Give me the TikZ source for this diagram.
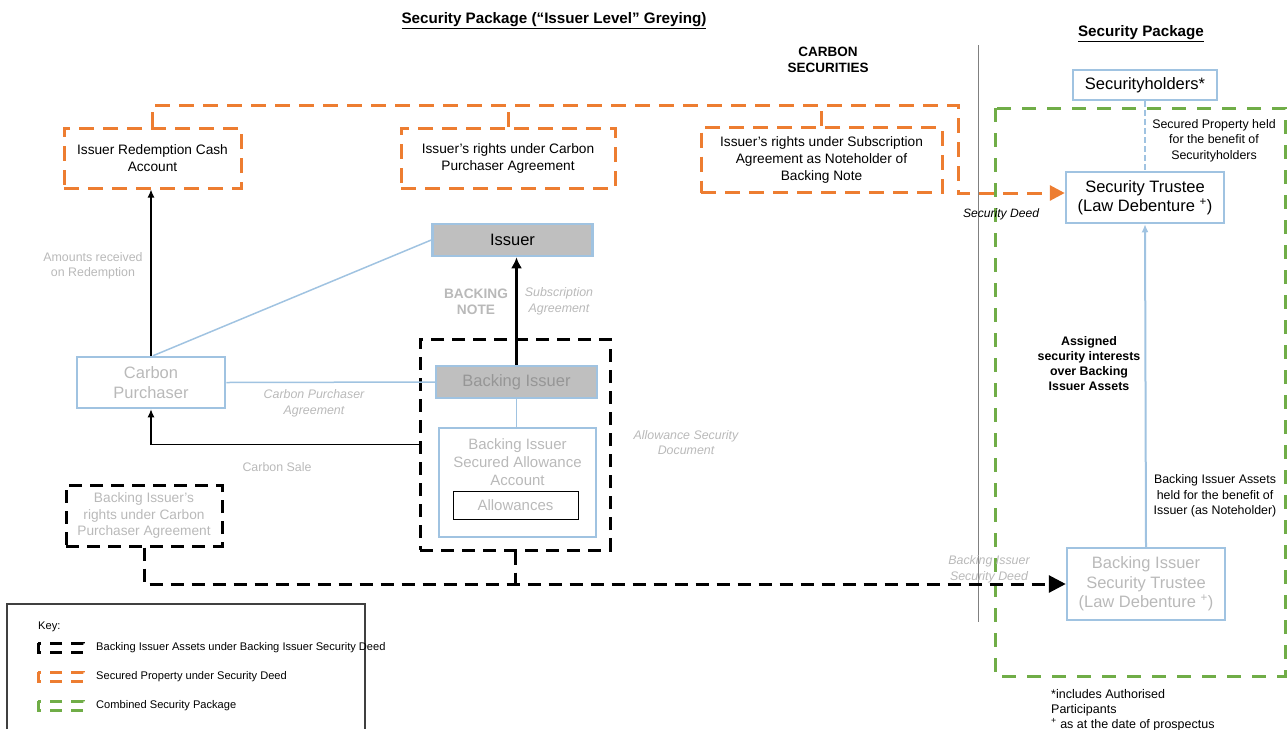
\documentclass[tikz,border=0pt]{standalone}
\usepackage{fontspec}
\setmainfont{Liberation Sans}
\usetikzlibrary{shapes,arrows,arrows.meta,positioning}
\definecolor{orng}{RGB}{237,125,49}
\definecolor{grn}{RGB}{112,173,71}
\definecolor{lblue}{RGB}{160,195,225}
\definecolor{boxgrey}{RGB}{191,191,191}
\definecolor{txtgrey}{RGB}{185,185,185}
\definecolor{dkgrey}{RGB}{150,150,150}

\begin{document}
\begin{tikzpicture}[x=1pt,y=-1pt,>=latex']
	%define block styles
	\tikzset{
		orangebox/.style={rectangle, draw=orng, line width=3pt, dash pattern=on 15pt off 9pt, inner sep=0pt, align=center, font=\fontsize{13.7}{17}\selectfont},
		blackbox/.style={rectangle, draw=black, line width=3pt, dash pattern=on 13pt off 8pt, inner sep=0pt, align=center, text=txtgrey, font=\fontsize{13.7}{16.5}\selectfont},
		bluebox/.style={rectangle, draw=lblue, line width=2.5pt, inner sep=0pt, align=center, font=\fontsize{16.5}{19.5}\selectfont},
		greybox/.style={bluebox, fill=boxgrey},
		lbl/.style={align=center, inner sep=0pt, text=txtgrey, font=\fontsize{12.4}{15.5}\selectfont},
		ilbl/.style={lbl, font=\fontsize{12.4}{15.5}\selectfont\itshape},
		blkline/.style={black, line width=1.3pt, -{Latex[length=8pt,width=7pt]}},
		blueline/.style={lblue, line width=1.5pt},
		orangeline/.style={orng, line width=3pt, dash pattern=on 15pt off 9pt},
		dashline/.style={black, line width=3pt, dash pattern=on 13pt off 8pt},
		greenline/.style={grn, line width=3pt, dash pattern=on 14pt off 11pt},
		title/.style={inner sep=0pt, align=center, font=\fontsize{15.2}{18}\selectfont\bfseries},
	}
	\useasboundingbox (0,0) rectangle (1288,729);
	%titles
	\node[title] (maintitle) at (554,21) {\underline{Security Package (“Issuer Level” Greying)}};
	\node[title, font=\fontsize{13.5}{16}\selectfont\bfseries] (carbsec) at (828,60) {CARBON\\SECURITIES};
	\node[title] (sptitle) at (1141,34) {\underline{Security Package}};
	\draw[gray, line width=0.8pt] (978,45) -- (978,622);
	%define nodes
	\node[orangebox, minimum width=177pt, minimum height=60pt] (redcash) at (152.5,158) {Issuer Redemption Cash\\Account};
	\node[orangebox, minimum width=214pt, minimum height=60pt] (cprights) at (508,158) {Issuer’s rights under Carbon\\Purchaser Agreement};
	\node[orangebox, minimum width=241pt, minimum height=65pt] (subrights) at (821.5,160) {Issuer’s rights under Subscription\\Agreement as Noteholder of\\Backing Note};
	\node[greybox, minimum width=160pt, minimum height=32pt] (issuer) at (512.5,240) {Issuer};
	\node[blackbox, minimum width=190pt, minimum height=211pt] (biassets) at (515,444.5) {};
	\node[greybox, minimum width=161pt, minimum height=32pt, text=dkgrey] (backiss) at (516.5,382) {Backing Issuer};
	\node[bluebox, minimum width=157pt, minimum height=109pt] (allowacct) at (517.5,482.5) {};
	\node[lbl, font=\fontsize{15}{18}\selectfont] (allowtxt) at (517.5,462) {Backing Issuer\\Secured Allowance\\Account};
	\node[draw=black, line width=1pt, minimum width=125pt, minimum height=28pt, inner sep=0pt, text=txtgrey, font=\fontsize{15}{18}\selectfont] (allowances) at (515.5,505) {Allowances};
	\node[bluebox, minimum width=148pt, minimum height=51pt, text=txtgrey] (cpurch) at (151,382.5) {Carbon\\Purchaser};
	\node[blackbox, minimum width=156pt, minimum height=61pt] (birights) at (144,515.5) {Backing Issuer’s\\rights under Carbon\\Purchaser Agreement};
	\node[bluebox, minimum width=144pt, minimum height=30pt] (holders) at (1145,85) {Securityholders*};
	\node[bluebox, minimum width=158pt, minimum height=51pt] (trustee) at (1145,197.5) {Security Trustee\\(Law Debenture \textsuperscript{+})};
	\node[bluebox, minimum width=158pt, minimum height=72pt, text=txtgrey] (bitrustee) at (1146,584) {Backing Issuer\\Security Trustee\\(Law Debenture \textsuperscript{+})};
	\draw[greenline] (995,108) rectangle (1285,676);
	%connectors
	\coordinate (orcorner) at (958,105);
	\draw[orangeline, -{Triangle[length=15pt,width=15pt]}] (redcash.north) |- (orcorner) |- ([yshift=4.5pt]trustee.west);
	\draw[orangeline] (cprights.north) -- (cprights.north |- orcorner);
	\draw[orangeline] (subrights.north) -- (subrights.north |- orcorner);
	\draw[blkline] (cpurch.north) -- (cpurch.north |- redcash.south);
	\draw[blueline] ([xshift=2pt]cpurch.north) -- (issuer.west);
	\draw[blueline] (cpurch.east) -- (backiss.west);
	\draw[blueline] (backiss.south) -- (backiss.south |- allowacct.north);
	\draw[black, line width=3.5pt, -{Latex[length=11pt,width=11pt]}] (backiss.north) -- (backiss.north |- issuer.south);
	\draw[blkline] (biassets.west) -| (cpurch.south);
	\draw[dashline, -{Triangle[length=17pt,width=17pt]}] (birights.south) |- (bitrustee.west);
	\draw[dashline] (biassets.south) -- (biassets.south |- bitrustee.west);
	\draw[lblue, line width=2pt, -{Latex[length=8pt,width=7pt]}] (bitrustee.north) -- (trustee.south);
	\draw[lblue, line width=2pt, dash pattern=on 6pt off 3pt] (holders.south) -- (trustee.north);
	%labels
	\node[lbl] (amtlbl) at (93,266) {Amounts received\\on Redemption};
	\node[lbl, font=\fontsize{13.7}{16}\selectfont\bfseries] (bnlbl) at (476,301.5) {BACKING\\NOTE};
	\node[ilbl] (sublbl) at (559,301.5) {Subscription\\Agreement};
	\node[ilbl] (cpalbl) at (314,403.5) {Carbon Purchaser\\Agreement};
	\node[lbl] (salelbl) at (277,467) {Carbon Sale};
	\node[ilbl] (asdlbl) at (686,442.5) {Allowance Security\\Document};
	\node[ilbl] (bisdlbl) at (989,569.5) {Backing Issuer\\Security Deed};
	\node[ilbl, text=black, font=\fontsize{12.1}{15}\selectfont\itshape] (sdlbl) at (1001,214) {Security Deed};
	\node[lbl, text=black] (splbl) at (1214,140.5) {Secured Property held\\for the benefit of\\Securityholders};
	\node[lbl, text=black, font=\fontsize{12.4}{15}\selectfont\bfseries] (asilbl) at (1089,364) {Assigned\\security interests\\over Backing\\Issuer Assets};
	\node[lbl, text=black] (bialbl) at (1215,496) {Backing Issuer Assets\\held for the benefit of\\Issuer (as Noteholder)};
	\node[lbl, text=black, align=left, anchor=west, font=\fontsize{12.5}{15}\selectfont] (footnote) at (1051,710) {*includes Authorised\\Participants\\\textsuperscript{+} as at the date of prospectus};
	%key
	\draw[darkgray, line width=1.5pt] (7,729) |- (365,604) -- (365,729);
	\node[lbl, text=black, anchor=west, font=\fontsize{11.1}{13}\selectfont] (keylbl) at (38,627) {Key:};
	\draw[dashline, dash pattern=on 12pt off 9pt] (38,643) rectangle (83,652);
	\draw[orangeline, dash pattern=on 12pt off 9pt] (38,672) rectangle (83,681);
	\draw[greenline, dash pattern=on 12pt off 9pt] (38,701) rectangle (83,710);
	\node[lbl, text=black, anchor=west, font=\fontsize{11.1}{13}\selectfont] (key1) at (96,648) {Backing Issuer Assets under Backing Issuer Security Deed};
	\node[lbl, text=black, anchor=west, font=\fontsize{11.1}{13}\selectfont] (key2) at (96,677) {Secured Property under Security Deed};
	\node[lbl, text=black, anchor=west, font=\fontsize{11.1}{13}\selectfont] (key3) at (96,706) {Combined Security Package};
\end{tikzpicture}
\end{document}
